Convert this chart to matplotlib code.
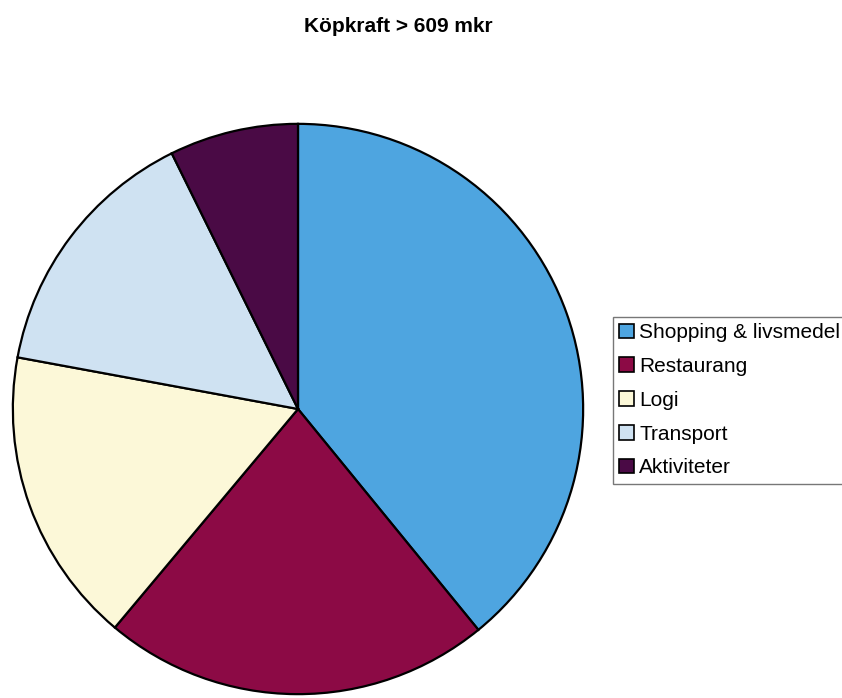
import matplotlib.pyplot as plt
from matplotlib.patches import Patch

plt.rcParams['font.family'] = ['Liberation Sans', 'DejaVu Sans']

labels = ['Shopping & livsmedel', 'Restaurang', 'Logi', 'Transport', 'Aktiviteter']
shares = [39.1, 22.0, 16.8, 14.8, 7.3]
colors = ['#4ea5e0', '#8c0a45', '#fcf8d8', '#cfe2f2', '#4a0a45']

W, H = 842, 698
fig = plt.figure(figsize=(W / 100, H / 100), dpi=100)

# pie centre ~ (298, 409) px from top-left, radius ~288 px
cx, cy, r = 298, 409, 288
ax = fig.add_axes([(cx - r) / W, (H - cy - r) / H, 2 * r / W, 2 * r / H])
ax.pie(shares, colors=colors, startangle=90, counterclock=False,
       wedgeprops=dict(edgecolor='black', linewidth=1.6))
ax.set_xlim(-1.01, 1.01)
ax.set_ylim(-1.01, 1.01)
ax.set_aspect('equal')
ax.axis('off')

fig.text(398 / W, 1 - 26 / H, 'Köpkraft > 609 mkr', ha='center', va='center',
         fontsize=15, fontweight='bold')

handles = [Patch(facecolor=c, edgecolor='black', linewidth=1.2) for c in colors]
leg = fig.legend(handles, labels, loc='upper left',
                 bbox_to_anchor=(613 / W, 1 - 317 / H), fontsize=15,
                 frameon=True, fancybox=False, handlelength=0.7, handleheight=0.7,
                 handletextpad=0.25, labelspacing=0.71, borderpad=0.3,
                 borderaxespad=0)
leg.get_frame().set_edgecolor('#555555')
leg.get_frame().set_linewidth(1.0)

fig.savefig('out.png', dpi=100)
